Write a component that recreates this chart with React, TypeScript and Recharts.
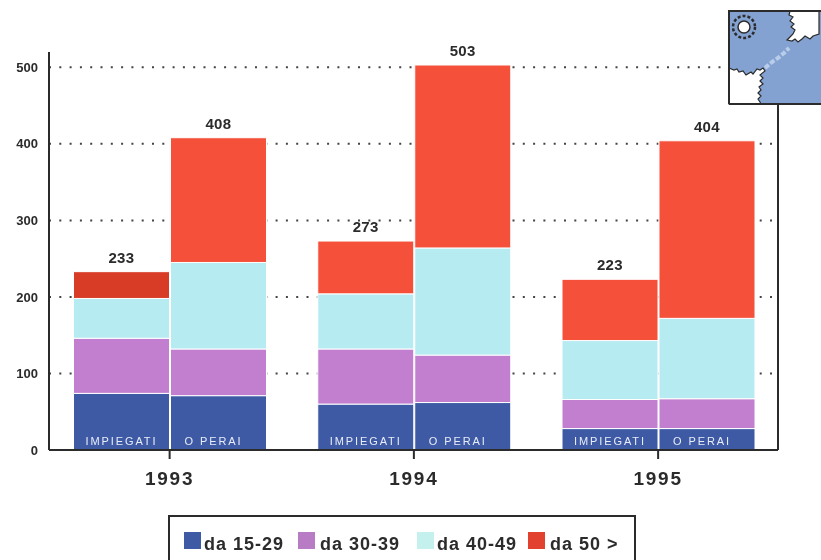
import React from 'react';
import { BarChart, Bar, XAxis, YAxis, CartesianGrid, Cell, LabelList, Legend } from 'recharts';

const years = ['1993', '1994', '1995'];
const yTicks = [0, 100, 200, 300, 400, 500];

const impiegati15 = [74, 60, 28];
const impiegati30 = [72, 72, 38];
const impiegati40 = [52, 72, 77];
const impiegati50 = [35, 69, 80];
const impiegatiTotal = [233, 273, 223];

const operai15 = [71, 62, 28];
const operai30 = [61, 62, 39];
const operai40 = [113, 140, 105];
const operai50 = [163, 239, 232];
const operaiTotal = [408, 503, 404];

const legendItems = ['da 15-29', 'da 30-39', 'da 40-49', 'da 50 >'];

const BLUE = '#3f5aa5';
const PURPLE = '#c27fcf';
const CYAN = '#b7ebf2';
const RED = '#f4503a';
const RED_DARK = '#d83c26';
const INK = '#2b2b2b';
const FONT = '"Liberation Sans", Arial, sans-serif';

const data = years.map((year, i) => ({
  year,
  imp15: impiegati15[i],
  imp30: impiegati30[i],
  imp40: impiegati40[i],
  imp50: impiegati50[i],
  impTotal: impiegatiTotal[i],
  impLabel: 'IMPIEGATI',
  op15: operai15[i],
  op30: operai30[i],
  op40: operai40[i],
  op50: operai50[i],
  opTotal: operaiTotal[i],
  opLabel: 'O PERAI',
}));

const legendColors = [BLUE, '#b87cc4', '#c4f0ee', '#e2412f'];
const legendLeft = [14, 128, 247, 358];
const legendTextGap = [3, 5, 3, 5];

const ChartLegend = () => (
  <div
    style={{
      position: 'relative',
      boxSizing: 'border-box',
      width: 468,
      height: 60,
      border: `2px solid ${INK}`,
      background: '#fff',
      fontFamily: FONT,
      fontWeight: 700,
      fontSize: 18,
      letterSpacing: 1,
      color: INK,
    }}
  >
    {legendItems.map((name, i) => (
      <div key={name} style={{ position: 'absolute', left: legendLeft[i], top: 15, display: 'flex', alignItems: 'flex-start' }}>
        <span style={{ width: 17, height: 17, background: legendColors[i], marginRight: legendTextGap[i], flex: 'none' }} />
        <span style={{ lineHeight: '24px', whiteSpace: 'nowrap' }}>{name}</span>
      </div>
    ))}
  </div>
);

// company mark in the top right corner, sits over the chart frame
const Logo = () => (
  <svg width={93} height={95} style={{ position: 'absolute', left: 728, top: 10 }}>
    <rect x={1} y={1} width={92} height={93} fill="#83a2d2" />
    <path
      d="M1 58 l5 2 l3 -1 l2 3 l4 -1 l3 4 l5 -3 l2 2 l4 -5 l3 1 l3 -2 l2 3 l-5 4 l3 3 l-3 3 l3 3 l-4 3 l2 3 l-3 3 l3 3 l-3 3 l2 3 l1 2 L34 94 L1 94 Z"
      fill="#fff"
      stroke={INK}
      strokeWidth={1.2}
    />
    <path
      d="M62 1 l-1 4 l4 2 l-3 4 l4 3 l-3 3 l4 3 l-2 4 l-3 3 l-3 3 l5 1 l3 -2 l3 3 l4 -3 l3 -3 l5 3 l3 -3 l6 -2 V1 Z"
      fill="#fff"
      stroke={INK}
      strokeWidth={1.2}
    />
    <path d="M37 58 l7 -6 l6 -4 l6 -5 l5 -5" fill="none" stroke="#b9cde9" strokeWidth={4} strokeDasharray="5 2" />
    <circle cx={16} cy={17} r={11} fill="none" stroke={INK} strokeWidth={2.5} strokeDasharray="3 2" />
    <circle cx={16} cy={17} r={6} fill="#fff" stroke={INK} strokeWidth={1.5} />
    <path d="M1 94 V1 H93 M1 94 H93" fill="none" stroke={INK} strokeWidth={2} />
  </svg>
);

const totalLabel = { fill: INK, fontFamily: FONT, fontWeight: 700, fontSize: 15, letterSpacing: 0.4 };
const barLabel = { fill: '#e8edf8', fontFamily: FONT, fontSize: 11, letterSpacing: 1.9 };

const renderStack = (prefix: string, totalKey: string, labelKey: string, darkFirst: boolean, labelShift: number) => [
  <Bar key={prefix + '15'} dataKey={prefix + '15'} stackId={prefix} fill={BLUE} stroke="#fff" strokeWidth={1} isAnimationActive={false}>
    <LabelList dataKey={labelKey} position="insideBottom" offset={5} dx={labelShift} style={barLabel} />
  </Bar>,
  <Bar key={prefix + '30'} dataKey={prefix + '30'} stackId={prefix} fill={PURPLE} stroke="#fff" strokeWidth={1} isAnimationActive={false} />,
  <Bar key={prefix + '40'} dataKey={prefix + '40'} stackId={prefix} fill={CYAN} stroke="#fff" strokeWidth={1} isAnimationActive={false} />,
  <Bar key={prefix + '50'} dataKey={prefix + '50'} stackId={prefix} fill={RED} stroke="#fff" strokeWidth={1} isAnimationActive={false}>
    {years.map((year, i) => (
      <Cell key={year} fill={darkFirst && i === 0 ? RED_DARK : RED} />
    ))}
    <LabelList dataKey={totalKey} position="top" offset={9} style={totalLabel} />
  </Bar>,
];

export default function App() {
  return (
    <div style={{ position: 'absolute', left: 0, top: 0, width: 821, height: 560, overflow: 'hidden', background: '#fff', filter: 'blur(0.4px)' }}>
      <BarChart
        width={821}
        height={560}
        data={data}
        barSize={96}
        barGap={1}
        margin={{ top: 52, right: 42, bottom: 0, left: 0 }}
      >
        <CartesianGrid vertical={false} stroke="#444" strokeWidth={2} strokeDasharray="2 8.3" horizontalValues={yTicks} />
        <XAxis
          dataKey="year"
          padding={{ left: -1.5, right: -2.25 }}
          stroke={INK}
          strokeWidth={2}
          tickSize={9}
          tickMargin={13}
          height={50}
          tick={{ fill: INK, fontFamily: FONT, fontWeight: 700, fontSize: 19, letterSpacing: 1.8 }}
        />
        <YAxis
          width={49}
          domain={[0, 520]}
          ticks={yTicks}
          stroke={INK}
          strokeWidth={2}
          tickSize={0}
          tickMargin={11}
          tick={{ fill: INK, fontFamily: FONT, fontWeight: 700, fontSize: 13 }}
        />
        <YAxis yAxisId="frame" orientation="right" width={1} domain={[0, 520]} ticks={[]} tick={false} stroke={INK} strokeWidth={2} />
        {renderStack('imp', 'impTotal', 'impLabel', true, 0)}
        {renderStack('op', 'opTotal', 'opLabel', false, -5)}
        <Legend
          verticalAlign="bottom"
          align="left"
          height={60}
          wrapperStyle={{ left: 168, width: 468, bottom: -15 }}
          content={<ChartLegend />}
        />
      </BarChart>
      <Logo />
    </div>
  );
}
